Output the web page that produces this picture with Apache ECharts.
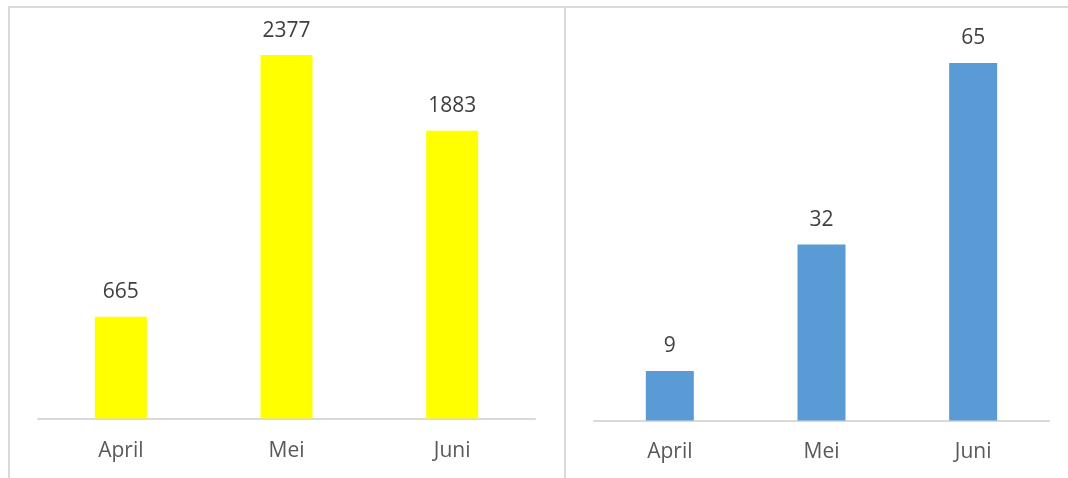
<!DOCTYPE html>
<html>
<head>
<meta charset="utf-8">
<script src="https://cdn.jsdelivr.net/npm/echarts@6/dist/echarts.min.js"></script>
<style>
html,body{margin:0;padding:0;background:#fff;}
#c{width:1068px;height:478px;}
</style>
</head>
<body>
<div id="c"></div>
<script>
const categories = ['April', 'Mei', 'Juni'];
const leftValues = [665, 2377, 1883];
const rightValues = [9, 32, 65];

const FONT = '"Open Sans", "Noto Sans", sans-serif';
const chart = echarts.init(document.getElementById('c'), null, {renderer: 'canvas'});

const borderStyle = {stroke: '#d9d9d9', lineWidth: 2};

chart.setOption({
  animation: false,
  backgroundColor: '#ffffff',
  graphic: [
    {type: 'line', shape: {x1: 8, y1: 7, x2: 1068, y2: 7}, style: borderStyle, silent: true},
    {type: 'line', shape: {x1: 9, y1: 6, x2: 9, y2: 478}, style: borderStyle, silent: true},
    {type: 'line', shape: {x1: 565, y1: 6, x2: 565, y2: 478}, style: borderStyle, silent: true}
  ],
  grid: [
    {left: 38, right: 533, top: 36.3, bottom: 59.5},
    {left: 594, right: 19, top: 35.5, bottom: 57.5}
  ],
  xAxis: [
    {
      gridIndex: 0, type: 'category', data: categories,
      axisLine: {lineStyle: {color: '#d9d9d9', width: 2}},
      axisTick: {show: false},
      axisLabel: {color: '#595959', fontSize: 21, fontFamily: FONT, margin: 22}
    },
    {
      gridIndex: 1, type: 'category', data: categories,
      axisLine: {lineStyle: {color: '#d9d9d9', width: 2}},
      axisTick: {show: false},
      axisLabel: {color: '#595959', fontSize: 21, fontFamily: FONT, margin: 21}
    }
  ],
  yAxis: [
    {gridIndex: 0, type: 'value', min: 0, max: 2500, show: false, splitLine: {show: false}},
    {gridIndex: 1, type: 'value', min: 0, max: 70, show: false, splitLine: {show: false}}
  ],
  series: [
    {
      type: 'bar', xAxisIndex: 0, yAxisIndex: 0, data: leftValues,
      barWidth: 52,
      itemStyle: {color: '#ffff00'},
      label: {show: true, position: 'top', distance: 14, color: '#404040', fontSize: 21, fontFamily: FONT}
    },
    {
      type: 'bar', xAxisIndex: 1, yAxisIndex: 1, data: rightValues,
      barWidth: 48,
      itemStyle: {color: '#5b9bd5'},
      label: {show: true, position: 'top', distance: 14, color: '#404040', fontSize: 21, fontFamily: FONT}
    }
  ]
});
</script>
</body>
</html>
